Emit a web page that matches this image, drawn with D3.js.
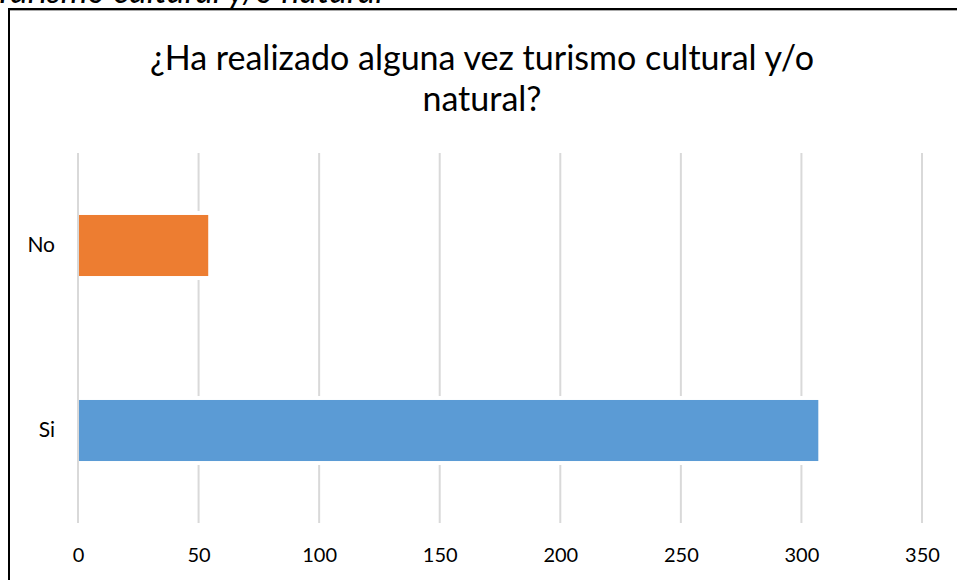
<!DOCTYPE html>
<html>
<head>
<meta charset="utf-8">
<script src="https://cdn.jsdelivr.net/npm/d3@7"></script>
<style>
  body { margin: 0; background: #fff; }
  svg { display: block; }
</style>
</head>
<body>
<svg id="chart" width="957" height="580"></svg>
<script>
// chart data
var categories = ["No", "Si"];
var values = [54, 307];
var barColors = ["#ED7D31", "#5B9BD5"];
var xTicks = [0, 50, 100, 150, 200, 250, 300, 350];
var titleLines = ["¿Ha realizado alguna vez turismo cultural y/o", "natural?"];
var captionText = "Turismo cultural y/o natural";

var svg = d3.select("#chart");
var font = "Lato, 'Open Sans', sans-serif";

// caption above the chart frame (cut off by the page top, as in the source)
var cap = svg.append("text")
    .attr("x", -6)
    .attr("y", 3)
    .style("font-family", font)
    .style("font-style", "italic")
    .style("font-size", "28px")
    .attr("fill", "#000")
    .text(captionText);
cap.style("font-size", (28 * 389 / cap.node().getComputedTextLength()) + "px");

// chart frame
svg.append("rect")
    .attr("x", 9)
    .attr("y", 9)
    .attr("width", 1000)
    .attr("height", 700)
    .attr("fill", "#fff")
    .attr("stroke", "#000")
    .attr("stroke-width", 2);
svg.append("line")
    .attr("x1", 10).attr("x2", 957)
    .attr("y1", 10.5).attr("y2", 10.5)
    .attr("stroke", "#aaa").attr("stroke-width", 1);

// scales
var x = d3.scaleLinear().domain([0, 350]).range([78, 922]);
var y = d3.scaleBand().domain(categories).range([153, 523]);
var barH = y.bandwidth() * 0.33;

// gridlines
svg.append("g")
    .selectAll("line")
    .data(xTicks)
    .enter()
    .append("line")
    .attr("x1", function(d) { return x(d); })
    .attr("x2", function(d) { return x(d); })
    .attr("y1", 153)
    .attr("y2", 523)
    .attr("stroke", "#d9d9d9")
    .attr("stroke-width", 2);

// bars (white halo behind each bar breaks the gridlines, as in Excel)
var rows = categories.map(function(c, i) { return { cat: c, value: values[i], color: barColors[i] }; });

svg.append("g")
    .selectAll("rect")
    .data(rows)
    .enter()
    .append("rect")
    .attr("x", x(0) + 1)
    .attr("y", function(d) { return y(d.cat) + (y.bandwidth() - barH) / 2 - 4; })
    .attr("width", function(d) { return x(d.value) - x(0) - 1; })
    .attr("height", barH + 8)
    .attr("fill", "#fff");

svg.append("g")
    .selectAll("rect")
    .data(rows)
    .enter()
    .append("rect")
    .attr("x", x(0) + 1)
    .attr("y", function(d) { return y(d.cat) + (y.bandwidth() - barH) / 2; })
    .attr("width", function(d) { return x(d.value) - x(0) - 1; })
    .attr("height", barH)
    .attr("fill", function(d) { return d.color; });

// x axis labels
var xAxis = svg.append("g")
    .attr("transform", "translate(0,548)")
    .call(d3.axisBottom(x).tickValues(xTicks).tickSize(0).tickPadding(0));
xAxis.select(".domain").remove();
xAxis.selectAll("text")
    .style("font-family", font)
    .style("font-size", "20px")
    .attr("fill", "#000");

// y axis labels
var yAxis = svg.append("g")
    .attr("transform", "translate(55,0)")
    .call(d3.axisLeft(y).tickSize(0).tickPadding(0));
yAxis.select(".domain").remove();
yAxis.selectAll("text")
    .style("font-family", font)
    .style("font-size", "21px")
    .attr("fill", "#000");

// title, two lines, fitted to the reference width
var title = svg.append("g");
var t1 = title.append("text")
    .attr("x", 482)
    .attr("y", 70)
    .attr("text-anchor", "middle")
    .style("font-family", font)
    .style("font-size", "30px")
    .attr("fill", "#000")
    .text(titleLines[0]);
var fitSize = 30 * 664 / t1.node().getComputedTextLength();
t1.style("font-size", fitSize + "px");
title.append("text")
    .attr("x", 482)
    .attr("y", 111)
    .attr("text-anchor", "middle")
    .style("font-family", font)
    .style("font-size", fitSize + "px")
    .attr("fill", "#000")
    .text(titleLines[1]);
</script>
</body>
</html>
